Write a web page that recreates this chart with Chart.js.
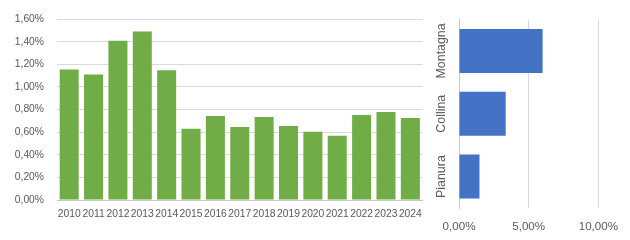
<!DOCTYPE html>
<html>
<head>
<meta charset="utf-8">
<script src="https://cdn.jsdelivr.net/npm/chart.js@4"></script>
<style>
  html, body { margin: 0; padding: 0; background: #ffffff; }
  body { width: 630px; height: 240px; position: relative; overflow: hidden; }
  #wrapL { position: absolute; left: 0; top: 0; width: 430px; height: 240px; }
  #wrapR { position: absolute; left: 425px; top: 0; width: 205px; height: 240px; }
</style>
</head>
<body>
<div id="wrapL"><canvas id="left"></canvas></div>
<div id="wrapR"><canvas id="right"></canvas></div>
<script>
const years = ['2010','2011','2012','2013','2014','2015','2016','2017','2018','2019','2020','2021','2022','2023','2024'];
const yearValues = [1.155, 1.11, 1.41, 1.49, 1.147, 0.63, 0.743, 0.646, 0.734, 0.655, 0.603, 0.568, 0.752, 0.778, 0.725];
const zones = ['Montagna', 'Collina', 'Pianura'];
const zoneValues = [6.0, 3.35, 1.47];
const leftTicks = [0, 0.2, 0.4, 0.6, 0.8, 1.0, 1.2, 1.4, 1.6];
const rightTicks = [0, 5, 10];

const fmt = v => Number(v).toFixed(2).replace('.', ',') + '%';
const FONT = "'Liberation Sans', Arial, sans-serif";
const TXT = '#595959';

new Chart(document.getElementById('left'), {
  type: 'bar',
  data: { labels: years, datasets: [{ data: yearValues, backgroundColor: '#70AD47', borderWidth: 0, barPercentage: 0.78, categoryPercentage: 1 }] },
  options: {
    responsive: true, maintainAspectRatio: false, animation: false,
    layout: { padding: { top: 17, right: 6, left: 0, bottom: 0 } },
    plugins: { legend: { display: false }, tooltip: { enabled: false } },
    scales: {
      x: {
        grid: { display: false, drawTicks: false },
        border: { display: true, color: '#c8c8c8', width: 1 },
        ticks: { color: TXT, font: { family: FONT, size: 10.3 }, padding: 8, autoSkip: false, maxRotation: 0, minRotation: 0 },
        afterFit: s => { s.height = 40; }
      },
      y: {
        min: 0, max: 1.6,
        afterBuildTicks: s => { s.ticks = leftTicks.map(v => ({ value: v })); },
        grid: { color: '#d9d9d9', drawTicks: false },
        border: { display: false },
        ticks: { color: TXT, font: { family: FONT, size: 10.3 }, padding: 13, callback: v => fmt(v) },
        afterFit: s => { s.width = 57; }
      }
    }
  }
});

new Chart(document.getElementById('right'), {
  type: 'bar',
  data: { labels: zones, datasets: [{ data: zoneValues, backgroundColor: '#4472C4', borderWidth: 0, barPercentage: 0.7, categoryPercentage: 1 }] },
  options: {
    indexAxis: 'y',
    responsive: true, maintainAspectRatio: false, animation: false,
    layout: { padding: { top: 19.5, right: 28, left: 0, bottom: 0 } },
    plugins: { legend: { display: false }, tooltip: { enabled: false } },
    scales: {
      x: {
        min: 0, max: 10,
        afterBuildTicks: s => { s.ticks = rightTicks.map(v => ({ value: v })); },
        grid: { color: '#d9d9d9', drawTicks: false },
        border: { display: false },
        ticks: { color: TXT, font: { family: FONT, size: 11.6 }, padding: 12, maxRotation: 0, minRotation: 0, callback: v => fmt(v) },
        afterFit: s => { s.height = 32; }
      },
      y: {
        grid: { display: false, drawTicks: false },
        border: { display: true, color: '#c8c8c8', width: 1 },
        ticks: { color: TXT, font: { family: FONT, size: 12.4 }, padding: -10, minRotation: 90, maxRotation: 90, crossAlign: 'center' },
        afterFit: s => { s.width = 34; }
      }
    }
  }
});
</script>
</body>
</html>
